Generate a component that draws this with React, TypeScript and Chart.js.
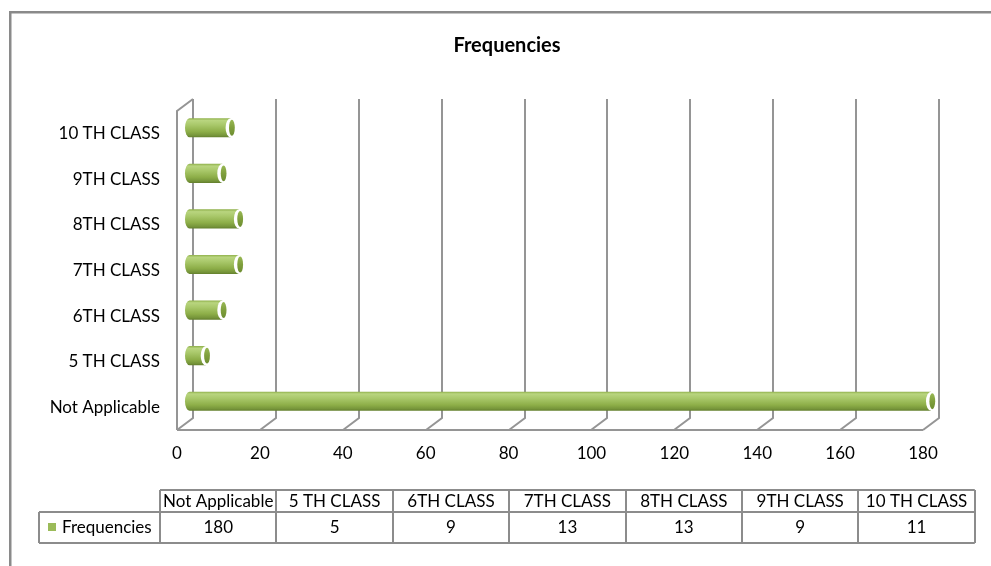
import React, { useEffect, useRef } from "react";
import { Chart, registerables } from "chart.js";

Chart.register(...registerables);

// Data
const categories = [
  "Not Applicable",
  "5 TH CLASS",
  "6TH CLASS",
  "7TH CLASS",
  "8TH CLASS",
  "9TH CLASS",
  "10 TH CLASS",
];
const frequencies = [180, 5, 9, 13, 13, 9, 11];
const seriesName = "Frequencies";
const chartTitle = "Frequencies";
const xMin = 0;
const xMax = 180;
const xStep = 20;

// Styling
const FONT = "Lato, 'Open Sans', 'DejaVu Sans', sans-serif";
const GREEN = "#9bbb59";
const GRID = "#959595";
const DEPTH_X = 16;
const DEPTH_Y = -12;

const W = 991;
const H = 566;

const chartDecor = {
  id: "chartDecor",
  beforeDraw(chart: any) {
    const ctx = chart.ctx;
    ctx.save();
    ctx.fillStyle = "#ffffff";
    ctx.fillRect(0, 0, chart.width, chart.height);
    // outer frame (top and left)
    ctx.strokeStyle = "#8a8a8a";
    ctx.lineWidth = 2.5;
    ctx.beginPath();
    ctx.moveTo(10.25, chart.height);
    ctx.lineTo(10.25, 12.25);
    ctx.lineTo(chart.width, 12.25);
    ctx.stroke();
    // title
    ctx.font = `bold 20px ${FONT}`;
    ctx.fillStyle = "#000";
    ctx.textAlign = "center";
    ctx.textBaseline = "middle";
    ctx.fillText(chartTitle, 507, 46);
    ctx.restore();
  },
  beforeDatasetsDraw(chart: any) {
    const { ctx, chartArea: a } = chart;
    const x = chart.scales.x;
    ctx.save();
    ctx.strokeStyle = GRID;
    ctx.lineWidth = 2;
    ctx.lineJoin = "miter";
    // back wall gridlines with their floor diagonals
    for (let v = xMin; v <= xMax; v += xStep) {
      const px = Math.round(x.getPixelForValue(v));
      ctx.beginPath();
      ctx.moveTo(px, a.bottom);
      ctx.lineTo(px + DEPTH_X, a.bottom + DEPTH_Y);
      ctx.lineTo(px + DEPTH_X, a.top + DEPTH_Y);
      ctx.stroke();
    }
    // front floor edge
    ctx.beginPath();
    ctx.moveTo(a.left, a.bottom);
    ctx.lineTo(Math.round(x.getPixelForValue(xMax)), a.bottom);
    ctx.stroke();
    // side wall front edge and top
    ctx.beginPath();
    ctx.moveTo(a.left, a.bottom);
    ctx.lineTo(a.left, a.top);
    ctx.lineTo(a.left + DEPTH_X, a.top + DEPTH_Y);
    ctx.stroke();
    ctx.restore();
  },
  afterDatasetsDraw(chart: any) {
    const ctx = chart.ctx;
    const meta = chart.getDatasetMeta(0);
    const ox = DEPTH_X / 2;
    const oy = DEPTH_Y / 2;
    ctx.save();
    meta.data.forEach((bar: any) => {
      const p = bar.getProps(["x", "y", "base", "height"], true);
      const x0 = p.base + ox;
      const x1 = p.x + ox;
      const cy = p.y + oy;
      const h = p.height;
      const top = cy - h / 2;
      const ry = h / 2;
      const rx = 4.5;

      // cylinder body
      const g = ctx.createLinearGradient(0, top, 0, top + h);
      g.addColorStop(0, "#8fb04a");
      g.addColorStop(0.12, "#b9d57f");
      g.addColorStop(0.35, "#a9c86a");
      g.addColorStop(0.7, "#8dae48");
      g.addColorStop(0.9, "#76953a");
      g.addColorStop(1, "#627e2c");
      ctx.fillStyle = g;
      ctx.beginPath();
      ctx.moveTo(x1, top);
      ctx.lineTo(x0 + rx, top);
      ctx.ellipse(x0 + rx, cy, rx, ry, 0, -Math.PI / 2, Math.PI / 2, true);
      ctx.lineTo(x1, top + h);
      ctx.closePath();
      ctx.fill();

      // end cap
      ctx.fillStyle = "#ffffff";
      ctx.beginPath();
      ctx.ellipse(x1, cy, rx + 0.5, ry, 0, 0, Math.PI * 2);
      ctx.fill();
      const cg = ctx.createLinearGradient(0, top, 0, top + h);
      cg.addColorStop(0, "#9dbd58");
      cg.addColorStop(0.5, "#7f9f3c");
      cg.addColorStop(1, "#6a8a2f");
      ctx.fillStyle = cg;
      ctx.beginPath();
      ctx.ellipse(x1 + 1.3, cy, rx - 1.6, ry - 1.6, 0, 0, Math.PI * 2);
      ctx.fill();
    });
    ctx.restore();
  },
  afterDraw(chart: any) {
    const ctx = chart.ctx;
    const colLeft = 160;
    const colW = 116.4;
    const rowTop = 490;
    const headH = 22;
    const dataH = 31;
    const legendLeft = 39;
    const n = categories.length;
    const right = colLeft + colW * n;
    const mid = rowTop + headH;
    const bottom = mid + dataH;

    ctx.save();
    ctx.strokeStyle = "#8c8c8c";
    ctx.lineWidth = 2;
    ctx.beginPath();
    // horizontal rules
    ctx.moveTo(colLeft, rowTop);
    ctx.lineTo(right, rowTop);
    ctx.moveTo(legendLeft, mid);
    ctx.lineTo(right, mid);
    ctx.moveTo(legendLeft, bottom);
    ctx.lineTo(right, bottom);
    // vertical rules
    ctx.moveTo(legendLeft, mid);
    ctx.lineTo(legendLeft, bottom);
    for (let i = 0; i <= n; i++) {
      const cx = Math.round(colLeft + colW * i);
      ctx.moveTo(cx, rowTop);
      ctx.lineTo(cx, bottom);
    }
    ctx.stroke();

    ctx.fillStyle = "#000";
    ctx.font = `17px ${FONT}`;
    ctx.textAlign = "center";
    ctx.textBaseline = "middle";
    categories.forEach((c, i) => {
      const cx = colLeft + colW * (i + 0.5);
      ctx.fillText(c, cx, rowTop + headH / 2 + 0.5);
      ctx.fillText(String(frequencies[i]), cx, mid + dataH / 2);
    });

    // legend key
    ctx.fillStyle = GREEN;
    ctx.fillRect(48, 523, 8, 8);
    ctx.fillStyle = "#000";
    ctx.textAlign = "left";
    ctx.fillText(seriesName, 62, mid + dataH / 2);
    ctx.restore();
  },
};

export default function App() {
  const canvasRef = useRef<HTMLCanvasElement | null>(null);

  useEffect(() => {
    document.body.style.margin = "0";
    const canvas = canvasRef.current;
    if (!canvas) return;
    const chart = new Chart(canvas, {
      type: "bar",
      data: {
        labels: categories,
        datasets: [
          {
            label: seriesName,
            data: frequencies,
            backgroundColor: "rgba(0,0,0,0)",
            borderWidth: 0,
            barPercentage: 0.42,
            categoryPercentage: 1,
          },
        ],
      },
      options: {
        indexAxis: "y",
        responsive: false,
        animation: false,
        layout: { padding: { left: 0, top: 111, right: W - 923, bottom: 0 } },
        plugins: {
          legend: { display: false },
          title: { display: false },
          tooltip: { enabled: false },
        },
        scales: {
          x: {
            type: "linear",
            min: xMin,
            max: xMax,
            grid: { display: false, drawTicks: false },
            border: { display: false },
            ticks: {
              stepSize: xStep,
              color: "#000",
              font: { family: FONT, size: 17 },
              padding: 13,
              maxRotation: 0,
            },
            afterFit: (s: any) => {
              s.height = H - 430;
            },
          },
          y: {
            type: "category",
            reverse: true,
            grid: { display: false, drawTicks: false },
            border: { display: false },
            ticks: {
              color: "#000",
              font: { family: FONT, size: 17 },
              padding: 17,
            },
            afterFit: (s: any) => {
              s.width = 177;
            },
          },
        },
      },
      plugins: [chartDecor],
    });
    return () => chart.destroy();
  }, []);

  return (
    <div style={{ width: W, height: H, position: "relative" }}>
      <canvas ref={canvasRef} width={W} height={H} style={{ display: "block" }} />
    </div>
  );
}
